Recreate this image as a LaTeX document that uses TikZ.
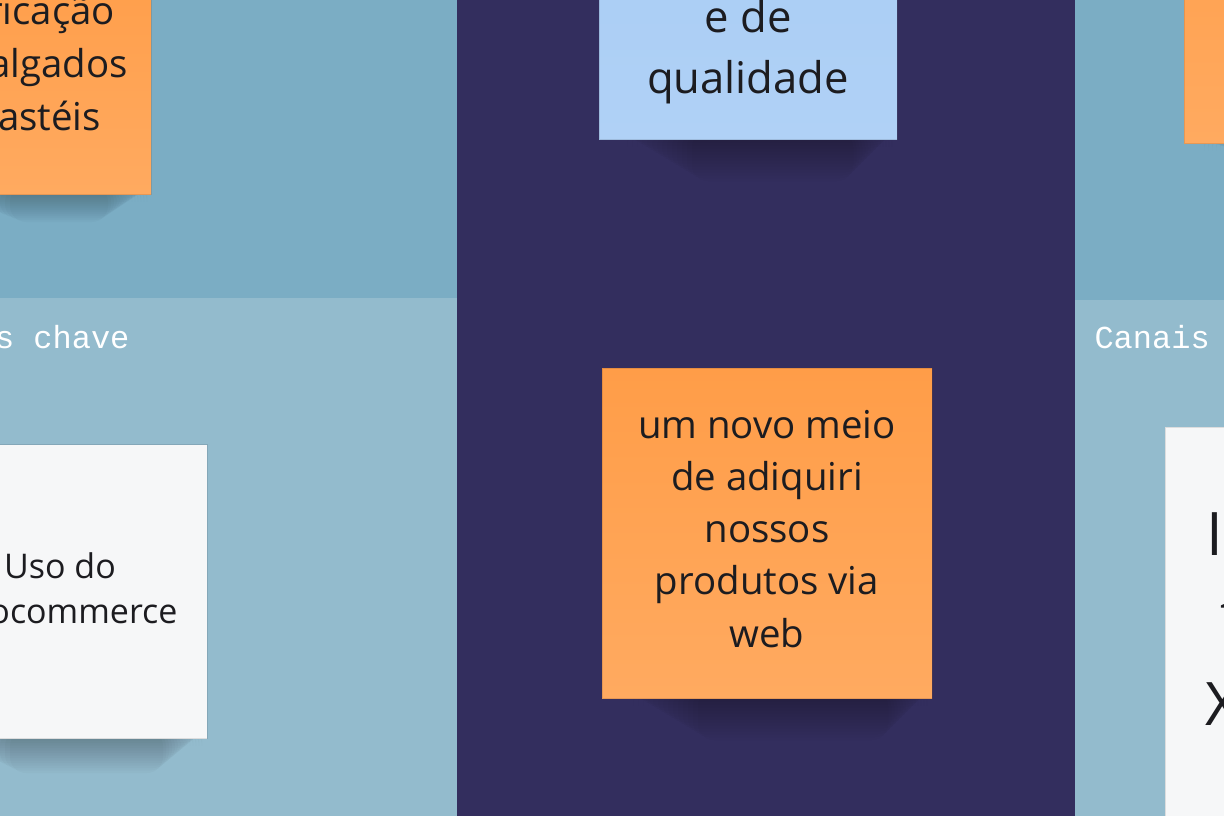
\documentclass[tikz,border=0pt]{standalone}
\usepackage{fontspec}
\setmainfont{Open Sans}
\setmonofont{Liberation Mono}
\usetikzlibrary{positioning}
\definecolor{paneltop}{RGB}{123,173,196}
\definecolor{panellow}{RGB}{147,187,205}
\definecolor{valuebg}{RGB}{51,46,94}
\definecolor{orangetop}{RGB}{255,157,72}
\definecolor{orangelow}{RGB}{255,170,96}
\definecolor{bluetop}{RGB}{167,204,244}
\definecolor{bluelow}{RGB}{176,209,246}
\definecolor{paper}{RGB}{246,247,248}
\definecolor{ink}{RGB}{28,28,32}

\begin{document}
\begin{tikzpicture}[x=1bp,y=-1bp,
  sticky/.style={inner sep=0pt,draw=black,draw opacity=0.1,line width=0.8bp},
  orangenote/.style={sticky,top color=orangetop,bottom color=orangelow},
  bluenote/.style={sticky,top color=bluetop,bottom color=bluelow},
  whitenote/.style={sticky,fill=paper},
  notetext/.style={text=ink,align=center,anchor=base},
  paneltitle/.style={white,font=\ttfamily\fontsize{32bp}{36bp}\selectfont}]
\useasboundingbox (0,0) rectangle (1224,816);
\clip (0,0) rectangle (1224,816);

% Panels
\fill[paneltop] (0,0) rectangle (457,298);
\fill[panellow] (0,298) rectangle (457,816);
\fill[valuebg] (457,0) rectangle (1075,816);
\fill[paneltop] (1075,0) rectangle (1224,300);
\fill[panellow] (1075,300) rectangle (1224,816);

\node[paneltitle,anchor=base east] (resources) at (133,348) {Recursos chave};
\node[paneltitle,anchor=base west] (channels) at (1091,348) {Canais};

% Shadows
\foreach \k in {1,...,14}{
  \fill[black,opacity=0.02,rounded corners=16bp]
    (-60+\k*5,186) rectangle (150-\k*3,194+\k*2);
  \fill[black,opacity=0.018,rounded corners=16bp]
    (622+\k*5,131) rectangle (895-\k*3,139+\k*3);
  \fill[black,opacity=0.018,rounded corners=16bp]
    (628+\k*5,690) rectangle (930-\k*3,698+\k*3);
  \fill[black,opacity=0.02,rounded corners=16bp]
    (-60+\k*5,730) rectangle (205-\k*3,738+\k*2.5);
  \fill[black,opacity=0.02,rounded corners=16bp]
    (1200+\k*4,135) rectangle (1260,143+\k*1.4);
}

% Key activities
\node[orangenote,minimum width=244bp,minimum height=244bp] (making) at (29,72) {};
\node[notetext,font=\fontsize{38.4bp}{52.5bp}\selectfont] (makingtext) at (22,130)
  {fabricação\\de salgados\\e pastéis};

% Value proposition
\node[bluenote,minimum width=298bp,minimum height=298bp] (quality) at (748,-10) {};
\node[notetext,font=\fontsize{43.6bp}{61bp}\selectfont] (qualitytext) at (748,94)
  {e de\\qualidade};
\node[orangenote,minimum width=330bp,minimum height=330bp] (webshop) at (767,533) {};
\node[notetext,font=\fontsize{38.4bp}{52.2bp}\selectfont] (webshoptext) at (767,647)
  {um novo meio\\de adiquiri\\nossos\\produtos via\\web};

% Customer relationship
\node[orangenote,minimum width=300bp,minimum height=300bp] (relation) at (1334,-7) {};

% Key resources
\node[whitenote,minimum width=294bp,minimum height=294bp] (woo) at (60,591.5) {};
\node[notetext,font=\fontsize{34bp}{45bp}\selectfont] (wootext) at (60,623)
  {Uso do\\woocommerce};

% Channels
\node[whitenote,minimum width=406bp,minimum height=406bp] (social) at (1368,630) {};
\begin{scope}[every node/.style={text=ink,anchor=base west,inner sep=0pt,
    font=\fontsize{60bp}{85bp}\selectfont}]
  \node (socialone) at (1206,555) {I};
  \node (socialtwo) at (1220,636) {t};
  \node (socialthree) at (1205,725) {X};
\end{scope}
\end{tikzpicture}
\end{document}
